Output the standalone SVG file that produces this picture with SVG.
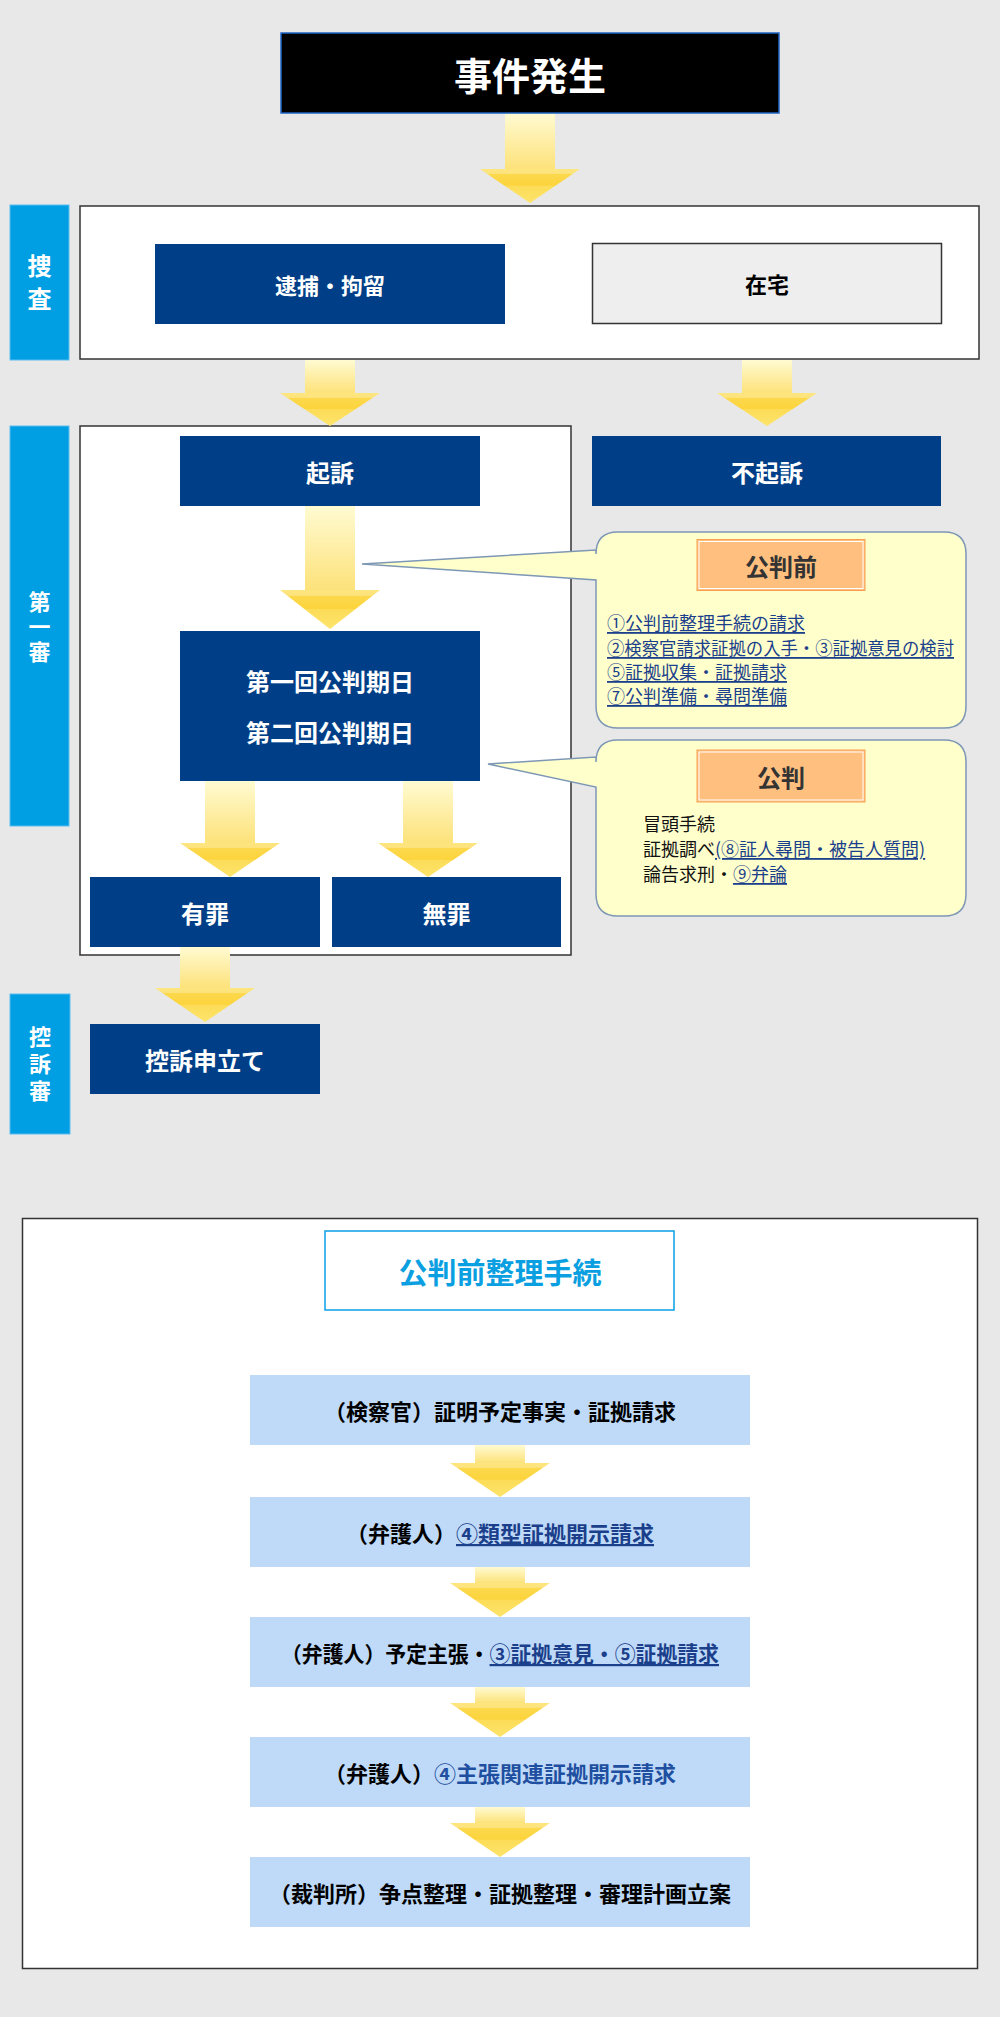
<svg xmlns="http://www.w3.org/2000/svg" width="1000" height="2017" viewBox="0 0 1000 2017">
<defs>
<linearGradient id="shaft" x1="0" y1="0" x2="0" y2="1">
<stop offset="0" stop-color="#fffbd2"/><stop offset="1" stop-color="#fde27a"/>
</linearGradient>
<linearGradient id="head" x1="0" y1="0" x2="0" y2="1">
<stop offset="0" stop-color="#fde680"/><stop offset="0.14" stop-color="#fde27a"/>
<stop offset="0.16" stop-color="#fcd84c"/><stop offset="0.48" stop-color="#fcd43c"/>
<stop offset="0.5" stop-color="#fcdc58"/><stop offset="1" stop-color="#fde46c"/>
</linearGradient>
<style>
text{font-family:"Noto Sans CJK JP","Noto Sans CJK SC",sans-serif;}
.navy{fill:#003f87;}
.wt{fill:#fff;font-weight:bold;font-size:24px;text-anchor:middle;dominant-baseline:central;}
.side{fill:#009fe3;stroke:#5bbdf0;stroke-width:1;}
.sidet{fill:#fff;font-weight:bold;font-size:22px;text-anchor:middle;writing-mode:vertical-rl;}
.frame{fill:#fff;stroke:#333;stroke-width:1.5;}
.callout{fill:#ffffcc;stroke:#7d97b5;stroke-width:1.5;}
.lab{fill:#ffbf7f;stroke:#f7a050;stroke-width:1;}
.labin{fill:none;stroke:#fff;stroke-width:1;}
.labt{fill:#333;font-weight:bold;font-size:24px;text-anchor:middle;dominant-baseline:central;}
.item{font-size:18px;dominant-baseline:central;fill:#111;}
.link{fill:#1b3f8b;text-decoration:underline;}
.step{fill:#bfdaf8;}
.stept{fill:#000;font-weight:bold;font-size:22px;text-anchor:middle;dominant-baseline:central;}
.blue{fill:#1f4fa0;}
.sh{fill:url(#shaft);}
.hd{fill:url(#head);}
</style>
</defs>
<rect x="0" y="0" width="1000" height="2017" fill="#e8e8e8"/>

<g id="sosa-frame"><rect class="frame" x="80" y="206" width="899" height="153"/></g>
<g id="daiisshin-frame"><rect class="frame" x="80" y="426" width="491" height="529"/></g>
<g id="seiri-frame"><rect class="frame" x="22.5" y="1218.5" width="955" height="750"/></g>

<g id="connectors">
<rect class="sh" x="505" y="113" width="50" height="56"/><polygon class="hd" points="480,169 580,169 530,203"/>
<rect class="sh" x="305" y="360" width="50" height="33"/><polygon class="hd" points="280,393 380,393 330,426"/>
<rect class="sh" x="742" y="360" width="50" height="33"/><polygon class="hd" points="717,393 817,393 767,426"/>
<rect class="sh" x="305" y="506" width="50" height="84"/><polygon class="hd" points="280,590 380,590 330,629"/>
<rect class="sh" x="205" y="781" width="50" height="62"/><polygon class="hd" points="180,843 280,843 230,877"/>
<rect class="sh" x="403" y="781" width="50" height="62"/><polygon class="hd" points="378,843 478,843 428,877"/>
<rect class="sh" x="180" y="947" width="50" height="41"/><polygon class="hd" points="155,988 255,988 205,1022"/>
<rect class="sh" x="475" y="1445" width="50" height="18"/><polygon class="hd" points="450,1463 550,1463 500,1497"/>
<rect class="sh" x="475" y="1567" width="50" height="16"/><polygon class="hd" points="450,1583 550,1583 500,1617"/>
<rect class="sh" x="475" y="1687" width="50" height="16"/><polygon class="hd" points="450,1703 550,1703 500,1737"/>
<rect class="sh" x="475" y="1807" width="50" height="16"/><polygon class="hd" points="450,1823 550,1823 500,1857"/>
</g>

<g id="event">
<rect x="281" y="33" width="498" height="80" fill="#000" stroke="#1e63c4" stroke-width="1.5"/>
<text x="530" y="73" class="wt" style="font-size:38px">事件発生</text>
</g>

<g id="sosa-label">
<rect class="side" x="10" y="205" width="59" height="155"/>
<text class="sidet" x="39.5" y="287" style="font-size:24px;letter-spacing:9px">捜査</text>
</g>
<g id="taiho">
<rect class="navy" x="155" y="244" width="350" height="80"/>
<text class="wt" x="330" y="284" style="font-size:22px">逮捕・拘留</text>
</g>
<g id="zaitaku">
<rect x="592.5" y="243.5" width="349" height="80" fill="#eeeeee" stroke="#333" stroke-width="1.5"/>
<text class="wt" x="767" y="283" style="fill:#000;font-size:22px">在宅</text>
</g>

<g id="daiisshin-label">
<rect class="side" x="10" y="426" width="59" height="400"/>
<text class="sidet" x="39.5" y="628" style="letter-spacing:3px">第一審</text>
</g>

<g id="kiso">
<rect class="navy" x="180" y="436" width="300" height="70"/>
<text class="wt" x="330" y="471">起訴</text>
</g>
<g id="fukiso">
<rect class="navy" x="592" y="436" width="349" height="70"/>
<text class="wt" x="767" y="471">不起訴</text>
</g>
<g id="kohan-kijitsu">
<rect class="navy" x="180" y="631" width="300" height="150"/>
<text class="wt" x="330" y="680">第一回公判期日</text>
<text class="wt" x="330" y="731">第二回公判期日</text>
</g>
<g id="yuzai">
<rect class="navy" x="90" y="877" width="230" height="70"/>
<text class="wt" x="205" y="912">有罪</text>
</g>
<g id="muzai">
<rect class="navy" x="332" y="877" width="229" height="70"/>
<text class="wt" x="446.5" y="912">無罪</text>
</g>

<g id="callout-kohanmae">
<path class="callout" d="M618,532 H944 Q966,532 966,554 V706 Q966,728 944,728 H618 Q596,728 596,706 V580 L362,564 L596,550 V554 Q596,532 618,532 Z"/>
<rect class="lab" x="697" y="539.5" width="168" height="51"/>
<rect class="labin" x="699" y="541.5" width="164" height="47"/>
<text class="labt" x="781" y="565">公判前</text>
<text class="item link" x="607" y="622">①公判前整理手続の請求</text>
<text class="item link" x="607" y="647" textLength="347" lengthAdjust="spacingAndGlyphs">②検察官請求証拠の入手・③証拠意見の検討</text>
<text class="item link" x="607" y="671">⑤証拠収集・証拠請求</text>
<text class="item link" x="607" y="695">⑦公判準備・尋問準備</text>
</g>

<g id="callout-kohan">
<path class="callout" d="M618,740 H944 Q966,740 966,762 V894 Q966,916 944,916 H618 Q596,916 596,894 V787 L488,764 L596,757 V762 Q596,740 618,740 Z"/>
<rect class="lab" x="697" y="750" width="168" height="52"/>
<rect class="labin" x="699" y="752" width="164" height="48"/>
<text class="labt" x="781" y="776">公判</text>
<text class="item" x="643" y="823">冒頭手続</text>
<text class="item" x="643" y="848">証拠調べ<tspan class="link">(⑧証人尋問・被告人質問)</tspan></text>
<text class="item" x="643" y="873">論告求刑・<tspan class="link">⑨弁論</tspan></text>
</g>

<g id="koso-label">
<rect class="side" x="10" y="994" width="60" height="140"/>
<text class="sidet" x="40" y="1066" style="letter-spacing:5px">控訴審</text>
</g>
<g id="koso">
<rect class="navy" x="90" y="1024" width="230" height="70"/>
<text class="wt" x="205" y="1059">控訴申立て</text>
</g>

<g id="seiri-title">
<rect x="325" y="1231" width="349" height="79" fill="#fff" stroke="#0aa0e6" stroke-width="1.5"/>
<text x="500" y="1271" style="fill:#0a9fe0;font-weight:bold;font-size:29px;text-anchor:middle;dominant-baseline:central">公判前整理手続</text>
</g>

<g id="step1">
<rect class="step" x="250" y="1375" width="500" height="70"/>
<text class="stept" x="500" y="1410">（検察官）証明予定事実・証拠請求</text>
</g>
<g id="step2">
<rect class="step" x="250" y="1497" width="500" height="70"/>
<text class="stept" x="500" y="1532">（弁護人）<tspan class="link">④類型証拠開示請求</tspan></text>
</g>
<g id="step3">
<rect class="step" x="250" y="1617" width="500" height="70"/>
<text class="stept" x="500" y="1652" textLength="438" lengthAdjust="spacingAndGlyphs">（弁護人）予定主張・<tspan class="link">③証拠意見・⑤証拠請求</tspan></text>
</g>
<g id="step4">
<rect class="step" x="250" y="1737" width="500" height="70"/>
<text class="stept" x="500" y="1772">（弁護人）<tspan class="blue">④主張関連証拠開示請求</tspan></text>
</g>
<g id="step5">
<rect class="step" x="250" y="1857" width="500" height="70"/>
<text class="stept" x="500" y="1892">（裁判所）争点整理・証拠整理・審理計画立案</text>
</g>
</svg>
